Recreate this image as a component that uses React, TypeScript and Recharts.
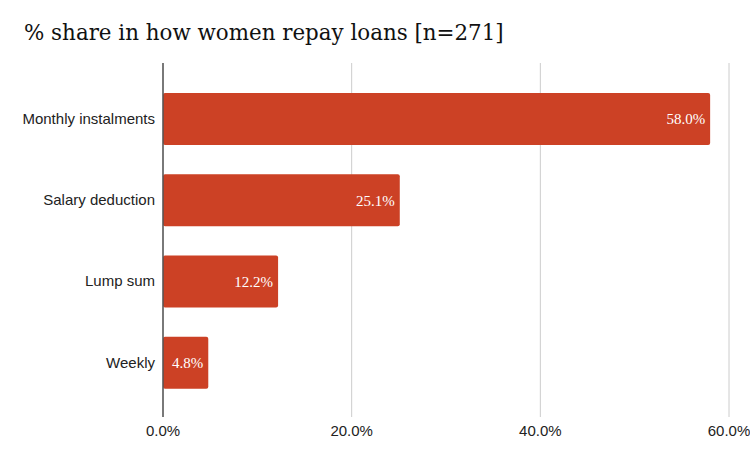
import React from "react";
import { BarChart, Bar, XAxis, YAxis, CartesianGrid, LabelList } from "recharts";

const categories = ["Monthly instalments", "Salary deduction", "Lump sum", "Weekly"];
const shares = [58.0, 25.1, 12.2, 4.8];
const xTicks = [0, 20, 40, 60];
const title = "% share in how women repay loans [n=271]";

const data = categories.map((name, i) => ({ name, value: shares[i] }));

export default function App() {
  return (
    <div style={{ position: "absolute", left: 0, top: 0, width: 750, height: 463, background: "#fff" }}>
      <div
        style={{
          position: "absolute",
          left: 24,
          top: 20,
          fontFamily: "'DejaVu Serif', 'Liberation Serif', serif",
          fontSize: 21.4,
          color: "#111",
          whiteSpace: "nowrap",
        }}
      >
        {title}
      </div>
      <BarChart
        width={750}
        height={463}
        data={data}
        layout="vertical"
        margin={{ top: 63, right: 21, bottom: 16, left: 13 }}
        barSize={52}
      >
        <CartesianGrid horizontal={false} stroke="#cccccc" />
        <XAxis
          type="number"
          domain={[0, 60]}
          ticks={xTicks}
          tickFormatter={(v: number) => `${v.toFixed(1)}%`}
          axisLine={false}
          tickLine={false}
          height={30}
          tick={{ fill: "#222", fontSize: 15, fontFamily: "'Liberation Sans', Arial, sans-serif" }}
          interval={0}
        />
        <YAxis
          type="category"
          dataKey="name"
          width={150}
          tickLine={false}
          axisLine={{ stroke: "#555", strokeWidth: 1.5 }}
          padding={{ top: 15, bottom: 14 }}
          tick={{ fill: "#222", fontSize: 15, fontFamily: "'Liberation Sans', Arial, sans-serif" }}
        />
        <Bar dataKey="value" fill="#cc4125" radius={2} isAnimationActive={false}>
          <LabelList
            dataKey="value"
            position="insideRight"
            offset={5}
            formatter={(v: number) => `${v.toFixed(1)}%`}
            style={{ fill: "#fff", fontSize: 15, fontFamily: "'Liberation Serif', 'Times New Roman', serif" }}
          />
        </Bar>
      </BarChart>
    </div>
  );
}
